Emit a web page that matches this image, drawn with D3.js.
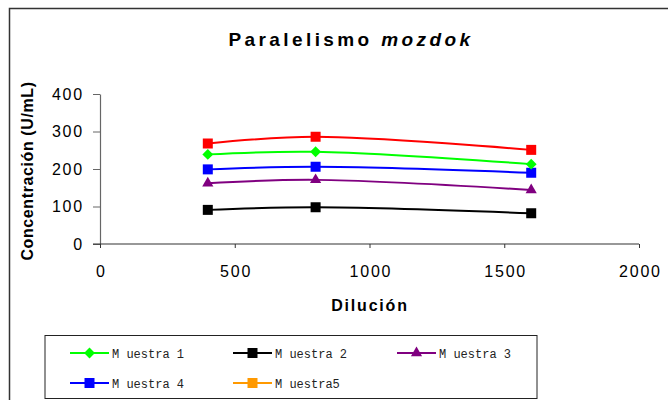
<!DOCTYPE html>
<html>
<head>
<meta charset="utf-8">
<script src="https://cdn.jsdelivr.net/npm/d3@7"></script>
<style>
  html, body { margin: 0; padding: 0; background: #fff; }
  svg { display: block; font-family: Arial, "Liberation Sans", sans-serif; }
</style>
</head>
<body>
<svg id="chart" width="668" height="400"></svg>
<script>
// Datos
const diluciones = [400, 800, 1600];
const muestra1 = [239, 246, 213];
const muestra2 = [91, 98, 82];
const muestra3 = [162, 171, 144];
const muestra4 = [199, 206, 190];
const muestra5 = [268, 286, 251];

const xTicks = [0, 500, 1000, 1500, 2000];
const yTicks = [0, 100, 200, 300, 400];

const series = [
  { nombre: "M uestra 1", valores: muestra1, color: "#00ff00", colorLeyenda: "#00ff00", marca: "diamond" },
  { nombre: "M uestra 2", valores: muestra2, color: "#000000", colorLeyenda: "#000000", marca: "square" },
  { nombre: "M uestra 3", valores: muestra3, color: "#800080", colorLeyenda: "#800080", marca: "triangle" },
  { nombre: "M uestra 4", valores: muestra4, color: "#0000ff", colorLeyenda: "#0000ff", marca: "square" },
  // en el gráfico la serie 5 aparece en rojo, en la leyenda en naranja
  { nombre: "M uestra5", valores: muestra5, color: "#ff0000", colorLeyenda: "#ff9900", marca: "square" },
];

const svg = d3.select("#chart");

// marco exterior
svg.append("path")
  .attr("d", "M9.5,400 L9.5,8.5 L668,8.5")
  .attr("fill", "none")
  .attr("stroke", "#333")
  .attr("stroke-width", 1.5);

const x = d3.scaleLinear().domain([0, 2000]).range([100, 639]);
const y = d3.scaleLinear().domain([0, 400]).range([244, 94]);

// título
const titulo = svg.append("text")
  .attr("x", 351).attr("y", 46)
  .attr("text-anchor", "middle")
  .style("font-size", "19px").style("font-weight", "bold")
  .style("letter-spacing", "3.4px");
titulo.append("tspan").text("Paralelismo ");
titulo.append("tspan").style("font-style", "italic").text("mozdok");

const estiloTick = sel => sel
  .style("font-size", "16px")
  .style("font-family", "Arial, 'Liberation Sans', sans-serif")
  .style("letter-spacing", "1.8px")
  .attr("fill", "#000");

// ejes
const ejeY = svg.append("g")
  .attr("transform", `translate(${x(0)},0)`)
  .call(d3.axisLeft(y).tickValues(yTicks).tickSize(7).tickSizeOuter(0).tickPadding(9));
ejeY.select(".domain").attr("stroke", "#666").attr("stroke-width", 1.2);
ejeY.selectAll(".tick line").attr("stroke", "#666");
estiloTick(ejeY.selectAll("text"));

const ejeX = svg.append("g")
  .attr("transform", `translate(0,${y(0)})`)
  .call(d3.axisBottom(x).tickValues(xTicks).tickFormat(d3.format("d"))
    .tickSize(4).tickSizeOuter(0).tickPadding(18));
ejeX.select(".domain").attr("stroke", "#333").attr("stroke-width", 1.2)
  .attr("d", `M${x(0) - 7},0H${x(2000)}`);
ejeX.selectAll(".tick line").attr("stroke", "#333");
estiloTick(ejeX.selectAll("text")).attr("dx", "0.9px");

// títulos de ejes
svg.append("text")
  .attr("transform", "translate(33,171) rotate(-90)")
  .attr("text-anchor", "middle")
  .style("font-size", "16px").style("font-weight", "bold")
  .style("letter-spacing", "0.6px")
  .text("Concentración (U/mL)");

svg.append("text")
  .attr("x", 370).attr("y", 311)
  .attr("text-anchor", "middle")
  .style("font-size", "16px").style("font-weight", "bold")
  .style("letter-spacing", "1.8px")
  .text("Dilución");

// marcadores
const simbolos = {
  diamond: d3.symbol().type(d3.symbolDiamond2).size(75),
  square: d3.symbol().type(d3.symbolSquare).size(100),
  triangle: d3.symbol().type(d3.symbolTriangle2).size(90),
};

const linea = d3.line()
  .x((d, i) => x(diluciones[i]))
  .y(d => y(d))
  .curve(d3.curveCatmullRom.alpha(0.5));

// orden de dibujo: la serie roja encima
const orden = [1, 2, 3, 0, 4];
orden.forEach(k => {
  const s = series[k];
  const g = svg.append("g");
  g.append("path")
    .attr("d", linea(s.valores))
    .attr("fill", "none")
    .attr("stroke", s.color)
    .attr("stroke-width", 2);
  g.selectAll("path.marca")
    .data(s.valores)
    .join("path")
    .attr("class", "marca")
    .attr("transform", (d, i) => `translate(${x(diluciones[i])},${y(d)})`)
    .attr("d", simbolos[s.marca])
    .attr("fill", s.color);
});

// leyenda
svg.append("rect")
  .attr("x", 45).attr("y", 335.5)
  .attr("width", 492).attr("height", 63)
  .attr("fill", "none")
  .attr("stroke", "#222").attr("stroke-width", 1);

const columnas = [70, 233, 397];
const filas = [353, 383];
series.forEach((s, i) => {
  const cx = columnas[i % 3];
  const cy = filas[Math.floor(i / 3)];
  const g = svg.append("g").attr("transform", `translate(${cx},${cy})`);
  g.append("line")
    .attr("x1", 0).attr("x2", 39)
    .attr("y1", 0).attr("y2", 0)
    .attr("stroke", s.colorLeyenda).attr("stroke-width", 2);
  g.append("path")
    .attr("transform", "translate(19.5,0)")
    .attr("d", simbolos[s.marca])
    .attr("fill", s.colorLeyenda);
  g.append("text")
    .attr("x", 42).attr("y", 4.5)
    .style("font-family", "'Liberation Mono', 'DejaVu Sans Mono', monospace")
    .style("font-size", "12px")
    .attr("fill", "#222")
    .text(s.nombre);
});
</script>
</body>
</html>
